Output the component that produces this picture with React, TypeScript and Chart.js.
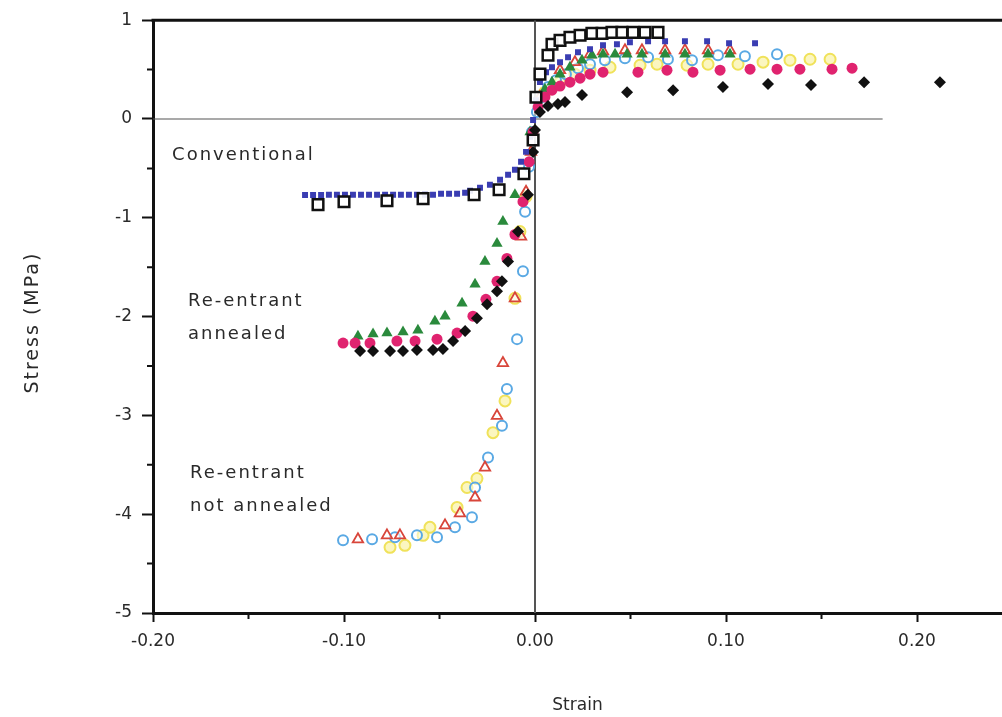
import React, { useEffect, useRef } from "react";
import { Chart, registerables } from "chart.js";

Chart.register(...registerables);

// ---------- axis ticks ----------
const xMajorTicks = [-0.2, -0.1, 0, 0.1, 0.2];
const xMinorTicks = [-0.15, -0.05, 0.05, 0.15];
const yMajorTicks = [1, 0, -1, -2, -3, -4, -5];
const yMinorTicks = [0.5, -0.5, -1.5, -2.5, -3.5, -4.5];

// ---------- Conventional: open black squares ----------
const convSquareX = [-0.1136, -0.1, -0.0775, -0.0586, -0.0319, -0.0188, -0.0058, -0.001, 0.0005,
  0.0026, 0.0068, 0.0089, 0.0131, 0.0183, 0.0236, 0.0298, 0.0351, 0.0403, 0.0455, 0.0513, 0.0576, 0.0644];
const convSquareY = [-0.867, -0.837, -0.827, -0.806, -0.766, -0.716, -0.554, -0.212, 0.22,
  0.454, 0.645, 0.756, 0.796, 0.827, 0.847, 0.867, 0.867, 0.877, 0.877, 0.877, 0.877, 0.877];

// ---------- Conventional: small filled blue squares ----------
const convBlueX = [-0.1204, -0.1162, -0.112, -0.1079, -0.1037, -0.0995, -0.0953, -0.0911, -0.0869, -0.0827,
  -0.0785, -0.0743, -0.0702, -0.066, -0.0618, -0.0576, -0.0534, -0.0492, -0.045, -0.0408, -0.0366,
  -0.034, -0.0288, -0.0236, -0.0183, -0.0141, -0.0105, -0.0073, -0.0047, -0.0026, -0.001,
  0.0005, 0.0026, 0.0058, 0.0089, 0.0131, 0.0173, 0.0225, 0.0288, 0.0356, 0.0429, 0.0497, 0.0592,
  0.0681, 0.0785, 0.0901, 0.1016, 0.1152];
const convBlueY = [-0.77, -0.77, -0.77, -0.766, -0.766, -0.766, -0.766, -0.766, -0.766, -0.766,
  -0.766, -0.766, -0.766, -0.766, -0.766, -0.766, -0.766, -0.756, -0.756, -0.756, -0.746,
  -0.726, -0.696, -0.665, -0.615, -0.565, -0.514, -0.433, -0.333, -0.181, -0.01,
  0.19, 0.373, 0.474, 0.524, 0.575, 0.625, 0.675, 0.706, 0.746, 0.756, 0.776, 0.786,
  0.786, 0.786, 0.786, 0.766, 0.766];

// ---------- Re-entrant annealed: green triangles ----------
const annTriX = [-0.0927, -0.0848, -0.0775, -0.0691, -0.0613, -0.0524, -0.0471, -0.0382, -0.0314, -0.0262,
  -0.0199, -0.0168, -0.0105, -0.0026,
  0.0052, 0.0089, 0.0131, 0.0183, 0.0246, 0.0298, 0.0356, 0.0419, 0.0482, 0.056, 0.0681, 0.0785, 0.0906, 0.1021];
const annTriY = [-2.198, -2.177, -2.167, -2.157, -2.137, -2.046, -1.996, -1.865, -1.673, -1.442,
  -1.26, -1.038, -0.766, -0.131,
  0.302, 0.373, 0.454, 0.524, 0.595, 0.645, 0.655, 0.655, 0.655, 0.655, 0.655, 0.655, 0.655, 0.655];

// ---------- Re-entrant annealed: pink circles ----------
const annCircX = [-0.1005, -0.0942, -0.0864, -0.0723, -0.0628, -0.0513, -0.0408, -0.0325, -0.0257, -0.0199,
  -0.0147, -0.0105, -0.0063, -0.0031, -0.001,
  0.0016, 0.0052, 0.0089, 0.0131, 0.0183, 0.0236, 0.0288, 0.0356, 0.0539, 0.0691, 0.0827, 0.0969,
  0.1126, 0.1267, 0.1387, 0.1555, 0.166];
const annCircY = [-2.268, -2.268, -2.268, -2.248, -2.248, -2.228, -2.167, -1.996, -1.825, -1.643,
  -1.411, -1.169, -0.837, -0.433, -0.131,
  0.121, 0.222, 0.292, 0.333, 0.373, 0.413, 0.454, 0.474, 0.474, 0.494, 0.474, 0.494,
  0.504, 0.504, 0.504, 0.504, 0.514];

// ---------- Re-entrant annealed: black diamonds ----------
const annDiaX = [-0.0916, -0.0848, -0.0759, -0.0691, -0.0618, -0.0534, -0.0482, -0.0429, -0.0366, -0.0304,
  -0.0251, -0.0199, -0.0173, -0.0141, -0.0089, -0.0037, -0.001, 0,
  0.0026, 0.0068, 0.012, 0.0157, 0.0246, 0.0482, 0.0723, 0.0984, 0.122, 0.1445, 0.1723, 0.212];
const annDiaY = [-2.349, -2.349, -2.349, -2.349, -2.339, -2.339, -2.329, -2.248, -2.147, -2.016,
  -1.875, -1.744, -1.643, -1.442, -1.139, -0.766, -0.333, -0.111,
  0.071, 0.131, 0.151, 0.171, 0.242, 0.272, 0.292, 0.323, 0.353, 0.343, 0.373, 0.373];

// ---------- Re-entrant not annealed: open red triangles ----------
const notAnnTriX = [-0.0927, -0.0775, -0.0707, -0.0471, -0.0393, -0.0314, -0.0262, -0.0199, -0.0168, -0.0105,
  -0.0073, -0.0047, -0.0021,
  0.0026, 0.0131, 0.0209, 0.0288, 0.0356, 0.0471, 0.056, 0.0681, 0.0785, 0.0906, 0.1021];
const notAnnTriY = [-4.254, -4.214, -4.214, -4.113, -3.992, -3.831, -3.528, -3.004, -2.47, -1.815,
  -1.19, -0.736, -0.333,
  0.222, 0.494, 0.575, 0.655, 0.685, 0.696, 0.696, 0.696, 0.696, 0.696, 0.696];

// ---------- Re-entrant not annealed: open light-blue circles ----------
const notAnnCircX = [-0.1005, -0.0853, -0.0733, -0.0618, -0.0513, -0.0419, -0.033, -0.0314, -0.0246, -0.0173,
  -0.0147, -0.0094, -0.0063, -0.0052, -0.0031, -0.0016,
  0.001, 0.0037, 0.0068, 0.011, 0.0162, 0.0225, 0.0288, 0.0366, 0.0471, 0.0592, 0.0696, 0.0822,
  0.0958, 0.1099, 0.1267];
const notAnnCircY = [-4.264, -4.254, -4.234, -4.214, -4.234, -4.133, -4.032, -3.73, -3.427, -3.105,
  -2.732, -2.228, -1.542, -0.938, -0.484, -0.131,
  0.07, 0.222, 0.323, 0.393, 0.454, 0.514, 0.554, 0.595, 0.615, 0.625, 0.605, 0.595,
  0.645, 0.635, 0.655];

// ---------- Re-entrant not annealed: yellow circles ----------
const notAnnYelX = [-0.0759, -0.0681, -0.0586, -0.055, -0.0408, -0.0356, -0.0304, -0.022, -0.0157, -0.0105,
  -0.0079, -0.0047,
  0.0052, 0.0131, 0.0209, 0.0288, 0.0393, 0.055, 0.0639, 0.0796, 0.0906, 0.1063, 0.1194, 0.1335,
  0.144, 0.1545];
const notAnnYelY = [-4.335, -4.315, -4.214, -4.133, -3.931, -3.73, -3.639, -3.175, -2.853, -1.815,
  -1.139, -0.786,
  0.272, 0.373, 0.454, 0.494, 0.524, 0.544, 0.554, 0.544, 0.554, 0.554, 0.575, 0.595,
  0.605, 0.605];

// ---------- reference lines ----------
const zeroLineX = [-0.2, 0.182];
const zeroLineY = [0, 0];
const originLineX = [0, 0];
const originLineY = [1, -5];

// ---------- annotations ----------
const annotationTexts = ["Conventional", "Re-entrant", "annealed", "Re-entrant", "not annealed"];
const annotationX = [-0.19, -0.1817, -0.1817, -0.1806, -0.1806];
const annotationY = [-0.363, -1.845, -2.177, -3.589, -3.921];

const FONT = "'DejaVu Sans', Verdana, sans-serif";

const zip = (xs: number[], ys: number[]) => xs.map((x, i) => ({ x, y: ys[i] }));

const decorPlugin = {
  id: "decor",
  beforeDatasetsDraw(chart: any) {
    const { ctx, chartArea, scales } = chart;
    const xs = scales.x;
    const ys = scales.y;
    ctx.save();
    // top frame line
    ctx.strokeStyle = "#111";
    ctx.lineWidth = 3;
    ctx.beginPath();
    ctx.moveTo(chartArea.left - 1.5, chartArea.top);
    ctx.lineTo(chartArea.right, chartArea.top);
    ctx.stroke();
    // minor ticks
    ctx.lineWidth = 2;
    ctx.beginPath();
    for (const v of xMinorTicks) {
      const px = xs.getPixelForValue(v);
      ctx.moveTo(px, chartArea.bottom);
      ctx.lineTo(px, chartArea.bottom + 6);
    }
    for (const v of yMinorTicks) {
      const py = ys.getPixelForValue(v);
      ctx.moveTo(chartArea.left, py);
      ctx.lineTo(chartArea.left - 6, py);
    }
    ctx.stroke();
    // annotations
    ctx.fillStyle = "#2a2a2a";
    ctx.font = `18px ${FONT}`;
    ctx.textAlign = "left";
    ctx.textBaseline = "middle";
    try { (ctx as any).letterSpacing = "2px"; } catch (e) {}
    annotationTexts.forEach((t, i) => {
      ctx.fillText(t, xs.getPixelForValue(annotationX[i]), ys.getPixelForValue(annotationY[i]));
    });
    try { (ctx as any).letterSpacing = "0px"; } catch (e) {}
    // y axis title
    ctx.save();
    ctx.translate(33, (chartArea.top + chartArea.bottom) / 2 + 6);
    ctx.rotate(-Math.PI / 2);
    ctx.textAlign = "center";
    ctx.font = `19px ${FONT}`;
    try { (ctx as any).letterSpacing = "2px"; } catch (e) {}
    ctx.fillText("Stress (MPa)", 0, 0);
    ctx.restore();
    ctx.restore();
  },
};

export default function App() {
  const canvasRef = useRef<HTMLCanvasElement | null>(null);

  useEffect(() => {
    if (!canvasRef.current) return;
    const pointDs = (label: string, xs: number[], ys: number[], opts: any) => ({
      type: "scatter",
      label,
      data: zip(xs, ys),
      showLine: false,
      ...opts,
    });
    const lineDs = (label: string, xs: number[], ys: number[], color: string, width: number) => ({
      type: "scatter",
      label,
      data: zip(xs, ys),
      showLine: true,
      borderColor: color,
      borderWidth: width,
      pointRadius: 0,
      pointHoverRadius: 0,
      fill: false,
    });

    const chart = new Chart(canvasRef.current, {
      type: "scatter",
      data: {
        datasets: [
          pointDs("Conventional squares", convSquareX, convSquareY, {
            pointStyle: "rect", pointRadius: 7.5, borderColor: "#111", borderWidth: 2.5,
            backgroundColor: "rgba(255,255,255,0.9)",
          }),
          pointDs("Conventional blue", convBlueX, convBlueY, {
            pointStyle: "rect", pointRadius: 4.2, borderColor: "#3a3db2", borderWidth: 0,
            backgroundColor: "#3a3db2",
          }),
          pointDs("Annealed diamonds", annDiaX, annDiaY, {
            pointStyle: "rectRot", pointRadius: 6, borderColor: "#111", borderWidth: 0,
            backgroundColor: "#111",
          }),
          pointDs("Annealed circles", annCircX, annCircY, {
            pointStyle: "circle", pointRadius: 5.5, borderColor: "#e0236f", borderWidth: 0,
            backgroundColor: "#e0236f",
          }),
          pointDs("Annealed triangles", annTriX, annTriY, {
            pointStyle: "triangle", pointRadius: 6.5, borderColor: "#2a8a3c", borderWidth: 0,
            backgroundColor: "#2a8a3c",
          }),
          pointDs("Not annealed triangles", notAnnTriX, notAnnTriY, {
            pointStyle: "triangle", pointRadius: 6, borderColor: "#d8453a", borderWidth: 1.8,
            backgroundColor: "rgba(255,255,255,0.6)",
          }),
          pointDs("Not annealed circles", notAnnCircX, notAnnCircY, {
            pointStyle: "circle", pointRadius: 5, borderColor: "#5aa9e4", borderWidth: 2,
            backgroundColor: "rgba(255,255,255,0.5)",
          }),
          pointDs("Not annealed yellow", notAnnYelX, notAnnYelY, {
            pointStyle: "circle", pointRadius: 5.5, borderColor: "#f0e25a", borderWidth: 2,
            backgroundColor: "rgba(248,240,150,0.6)",
          }),
          lineDs("zero", zeroLineX, zeroLineY, "#555", 1.2),
          lineDs("origin", originLineX, originLineY, "#555", 2),
        ],
      } as any,
      plugins: [decorPlugin],
      options: {
        animation: false,
        responsive: false,
        devicePixelRatio: 1,
        events: [],
        layout: { autoPadding: false, padding: { top: 18, left: 0, right: 0, bottom: 0 } },
        plugins: {
          legend: { display: false },
          tooltip: { enabled: false },
          title: { display: false },
        },
        scales: {
          x: {
            type: "linear",
            position: "bottom",
            min: -0.2,
            max: 0.2445,
            afterFit: (s: any) => { s.height = 104; },
            afterBuildTicks: (s: any) => { s.ticks = xMajorTicks.map((v) => ({ value: v })); },
            border: { display: true, color: "#111", width: 3 },
            grid: { display: true, drawOnChartArea: false, drawTicks: true, tickLength: 9, tickColor: "#111", tickWidth: 2 },
            ticks: {
              padding: 9,
              color: "#2a2a2a",
              autoSkip: false,
              maxRotation: 0,
              font: { family: FONT, size: 17 },
              callback: (v: any) => (Math.abs(Number(v)) < 1e-9 ? "0.00" : Number(v).toFixed(2)),
            },
            title: {
              display: true,
              text: "Strain",
              color: "#2a2a2a",
              font: { family: FONT, size: 17 },
              padding: { top: 0, bottom: 1 },
            },
          },
          y: {
            type: "linear",
            position: "left",
            min: -5,
            max: 1,
            afterFit: (s: any) => { s.width = 153; },
            afterBuildTicks: (s: any) => { s.ticks = yMajorTicks.map((v) => ({ value: v })); },
            border: { display: true, color: "#111", width: 3 },
            grid: { display: true, drawOnChartArea: false, drawTicks: true, tickLength: 11, tickColor: "#111", tickWidth: 2 },
            ticks: {
              padding: 10,
              color: "#2a2a2a",
              autoSkip: false,
              font: { family: FONT, size: 17 },
              callback: (v: any) => String(Math.round(Number(v))),
            },
          },
        },
      } as any,
    });
    return () => chart.destroy();
  }, []);

  return (
    <div style={{ position: "absolute", left: 0, top: 0, width: 1002, height: 717, background: "#fff" }}>
      <canvas ref={canvasRef} width={1002} height={717} style={{ display: "block" }} />
    </div>
  );
}
